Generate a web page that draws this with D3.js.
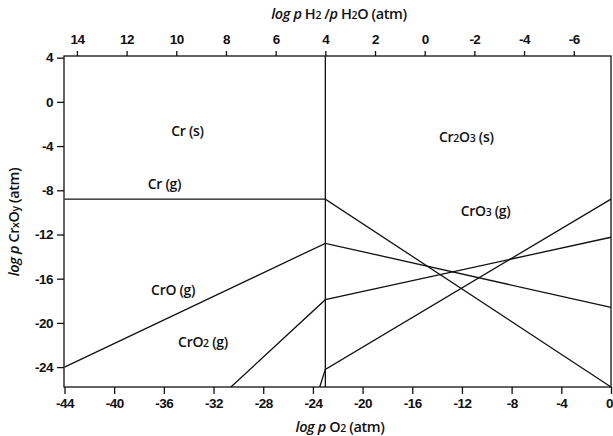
<!DOCTYPE html>
<html>
<head>
<meta charset="utf-8">
<script src="https://cdn.jsdelivr.net/npm/d3@7"></script>
<style>
  html, body { margin: 0; padding: 0; background: #fff; }
  svg { display: block; font-family: "Open Sans", "DejaVu Sans", sans-serif; }
  .tick text { font-size: 13.5px; font-weight: 600; fill: #111; letter-spacing: -0.5px; }
  .tick line, .domain { stroke: #111; stroke-width: 1.3px; }
</style>
</head>
<body>
<svg id="chart" width="613" height="436"></svg>
<script>
// Volatility diagram for the Cr–O system: log p of CrxOy gas species vs log p O2
const o2Ticks = [-44, -40, -36, -32, -28, -24, -20, -16, -12, -8, -4, 0];
const ratioTicks = [14, 12, 10, 8, 6, 4, 2, 0, -2, -4, -6];
const pTicks = [4, 0, -4, -8, -12, -16, -20, -24];

// Cr(s) / Cr2O3(s) equilibrium oxygen pressure
const boundaryO2 = -23;

// Gas-species boundary lines, [log p O2, log p CrxOy]
const crGas  = [[-44, -8.8], [-23, -8.8], [0, -25.8]];
const croGas = [[-44, -24.0], [-23, -12.8], [0, -18.6]];
const cro2Gas = [[-30.6, -25.8], [-23, -17.9], [0, -12.25]];
const cro3Gas = [[-23.45, -25.8], [-23, -24.2], [0, -8.8]];

// Field labels placed at [log p O2, log p CrxOy]
const fieldLabels = [
  { x: -34.1, y: -3.1, parts: [["Cr (s)", false]] },
  { x: -35.95, y: -7.9, parts: [["Cr (g)", false]] },
  { x: -35.25, y: -17.5, parts: [["CrO (g)", false]] },
  { x: -32.85, y: -22.2, parts: [["CrO", false], ["2", true], [" (g)", false]] },
  { x: -11.65, y: -3.6, parts: [["Cr", false], ["2", true], ["O", false], ["3", true], [" (s)", false]] },
  { x: -10.1, y: -10.3, parts: [["CrO", false], ["3", true], [" (g)", false]] }
];

const svg = d3.select("#chart");
const mLeft = 64, mRight = 611, mTop = 56, mBottom = 387;

const x = d3.scaleLinear().domain([-44, 0]).range([64.5, mRight]);
// log pH2/pH2O = -log pO2 / 2 - 7.5 for the H2/H2O buffer
const xTop = d3.scaleLinear().domain([14.5, -7.5]).range([64.5, mRight]);
const y = d3.scaleLinear().domain([-25.8, 4.15]).range([mBottom, mTop]);

const fmt = d => String(d); // plain hyphen-minus

// frame
svg.append("rect")
  .attr("x", mLeft).attr("y", mTop)
  .attr("width", mRight - mLeft).attr("height", mBottom - mTop)
  .attr("fill", "none").attr("stroke", "#111").attr("stroke-width", 1.3);

svg.append("g").attr("transform", `translate(0,${mBottom})`)
  .call(d3.axisBottom(x).tickValues(o2Ticks).tickFormat(fmt).tickSize(7).tickPadding(4).tickSizeOuter(0))
  .call(g => g.select(".domain").remove())
  .call(g => g.selectAll(".tick text").filter(d => d === 0).attr("dx", -2));

svg.append("g").attr("transform", `translate(0,${mTop})`)
  .call(d3.axisTop(xTop).tickValues(ratioTicks).tickFormat(fmt).tickSize(5).tickPadding(7).tickSizeOuter(0))
  .call(g => g.select(".domain").remove());

svg.append("g").attr("transform", `translate(${mLeft},0)`)
  .call(d3.axisLeft(y).tickValues(pTicks).tickFormat(fmt).tickSize(7).tickPadding(4).tickSizeOuter(0))
  .call(g => g.select(".domain").remove());

// phase boundary
svg.append("line")
  .attr("x1", x(boundaryO2)).attr("x2", x(boundaryO2))
  .attr("y1", mTop).attr("y2", mBottom)
  .attr("stroke", "#111").attr("stroke-width", 1.3);

const line = d3.line().x(d => x(d[0])).y(d => y(d[1]));
[crGas, croGas, cro2Gas, cro3Gas].forEach(pts => {
  svg.append("path").attr("d", line(pts))
    .attr("fill", "none").attr("stroke", "#111").attr("stroke-width", 1.3);
});

fieldLabels.forEach(l => {
  const t = svg.append("text")
    .attr("x", x(l.x)).attr("y", y(l.y))
    .attr("text-anchor", "middle")
    .attr("font-size", 14).attr("font-weight", 600).attr("fill", "#111")
    .attr("letter-spacing", "-0.3px");
  l.parts.forEach(([s, sub]) => {
    const ts = t.append("tspan").text(s);
    if (sub) ts.attr("font-size", 10.5);
  });
});

// axis titles
function title(sel, parts) {
  parts.forEach(([s, style]) => {
    const ts = sel.append("tspan").text(s);
    if (style === "i") ts.attr("font-style", "italic");
    if (style === "s") ts.attr("font-size", 10.5);
  });
}

const bt = svg.append("text").attr("x", 340).attr("y", 432)
  .attr("text-anchor", "middle").attr("font-size", 14.5).attr("font-weight", 600)
  .attr("fill", "#111").attr("letter-spacing", "-0.4px");
title(bt, [["log p", "i"], [" O", ""], ["2", "s"], [" (atm)", ""]]);

const tt = svg.append("text").attr("x", 339).attr("y", 19)
  .attr("text-anchor", "middle").attr("font-size", 14.5).attr("font-weight", 600)
  .attr("fill", "#111").attr("letter-spacing", "-0.4px");
title(tt, [["log p", "i"], [" H", ""], ["2", "s"], [" /", ""], ["p", "i"], [" H", ""], ["2", "s"], ["O (atm)", ""]]);

const lt = svg.append("text")
  .attr("transform", "translate(19,222) rotate(-90)")
  .attr("text-anchor", "middle").attr("font-size", 14.5).attr("font-weight", 600)
  .attr("fill", "#111").attr("letter-spacing", "-0.4px");
title(lt, [["log p", "i"], [" Cr", ""], ["x", "s"], ["O", ""], ["y", "s"], [" (atm)", ""]]);
</script>
</body>
</html>
